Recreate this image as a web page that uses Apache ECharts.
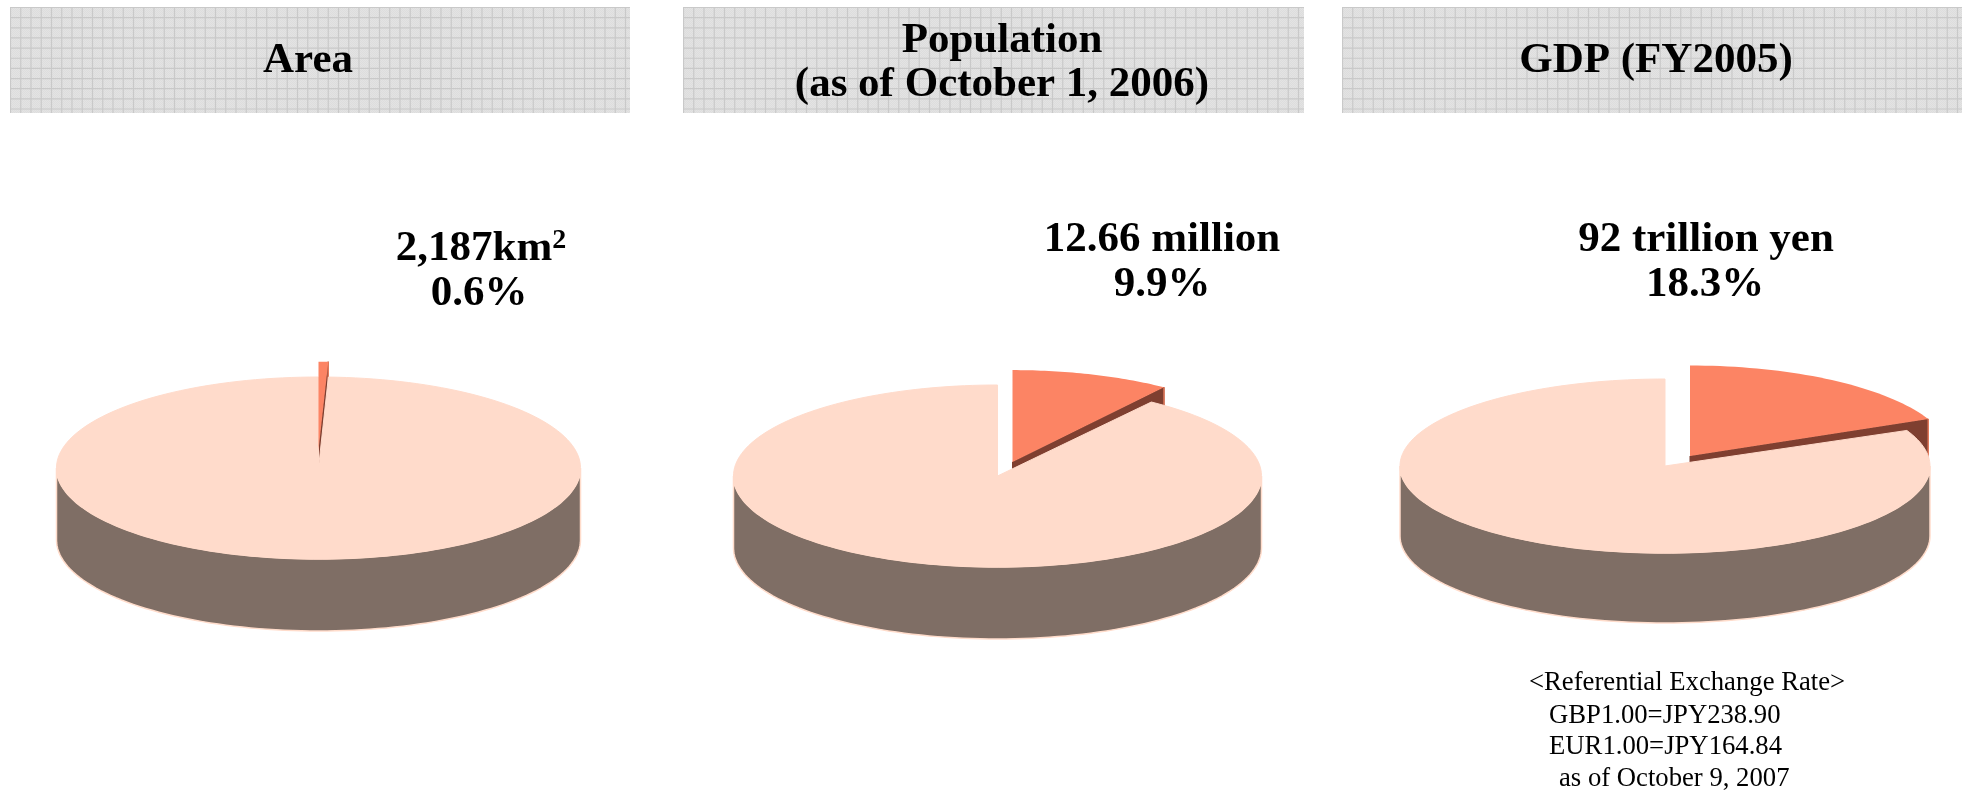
<!DOCTYPE html>
<html><head><meta charset="utf-8">
<style>html,body{margin:0;padding:0;background:#fff}#c{width:1966px;height:794px}</style>
<script src="https://cdn.jsdelivr.net/npm/echarts@6/dist/echarts.min.js"></script>
</head><body><div id="c"></div>
<script>
// ---- data ----
const panelTitles = ["Area", "Population\n(as of October 1, 2006)", "GDP (FY2005)"];
const valueLabels = ["2,187km{sup|2}", "12.66 million", "92 trillion yen"];
const shareLabels = ["0.6%", "9.9%", "18.3%"];
const shares = [0.6, 9.9, 18.3];
const noteLines = ["<Referential Exchange Rate>", "GBP1.00=JPY238.90", "EUR1.00=JPY164.84", "as of October 9, 2007"];

// ---- layout ----
const layouts = [
  {cx:318.5, cy:468, rx:262, ry:91, depth:72, ox:0, oy:-18, sx:.985, sy:.97},
  {cx:997.5, cy:476, rx:264, ry:91, depth:72, ox:15, oy:-14, sx:.985, sy:1.01},
  {cx:1665,  cy:466, rx:265, ry:87, depth:70, ox:25, oy:-10, sx:.985, sy:1.04}
];
const bands = [{x:10,w:620},{x:683,w:621},{x:1342,w:620}];
const titlePos = [[308,61],[1002,63],[1656,61]];
const valuePos = [[481,249],[1162,240],[1706,240]];
const sharePos = [[479,294],[1162,285],[1705,285]];
const notePos = [[1529,683],[1549,716],[1549,747],[1559,779]];
const C = {mainTop:'#FFDBCB', mainSide:'#7F6E65', sliceTop:'#FC8464', sliceSide:'#7F3F30', edge:'#FFDCCB', sliceEdge:'#E27A5C'};
const X_R = 1.1, Y_UP = 1.5, Y_DOWN = 2.2;

function makeBand(w,h){
  const c=document.createElement('canvas'); c.width=w; c.height=h;
  const g=c.getContext('2d');
  for(let y=0;y<h;y++)for(let x=0;x<w;x++){g.fillStyle=(x+y)%2?'#DDDDDD':'#E3E3E3';g.fillRect(x,y,1,1);}
  g.strokeStyle='#C9C9C9'; g.lineWidth=1.2;
  for(let x=0;x<w;x+=10.25){g.beginPath();g.moveTo(x+.5,0);g.lineTo(x+.5,h);g.stroke();}
  for(let y=0;y<h;y+=10.15){g.beginPath();g.moveTo(0,y+.5);g.lineTo(w,y+.5);g.stroke();}
  return c;
}

function renderPie(pieIndex){
  return function(params, api){
    const L = layouts[pieIndex], share = api.value(0), layer = api.value(1);
    const ux = 1/L.rx, uy = 1/L.ry, dY = L.depth*uy;
    const endA = share/100*2*Math.PI;
    const rim = (a,offY,k1,k2,ox,oy)=>api.coord([ (ox||0)+Math.sin(a)*(k1||1), (oy||0)+Math.cos(a)*(k2||1)-(offY||0) ]);
    const children=[];
    const poly=(pts,fill,stroke,lw)=>children.push({type:'polygon',shape:{points:pts},style:{fill:fill,stroke:stroke||fill,lineWidth:lw||1}});
    const ox=L.ox*ux, oy=-L.oy*uy;
    if(layer===0){ // cut face of the exploded slice
      const p1=api.coord([ox,oy]), p2=rim(endA,0,L.sx,L.sy,ox,oy),
            p3=rim(endA,dY,L.sx,L.sy,ox,oy), p4=api.coord([ox,oy-dY]);
      poly([p1,p2,p3,p4],C.sliceSide);
      children.push({type:'line',shape:{x1:p2[0],y1:p2[1],x2:p3[0],y2:p3[1]},style:{stroke:C.sliceEdge,lineWidth:1.5}});
    } else if(layer===1){ // wall of the main body
      const pts=[],back=[];
      const a0=Math.max(Math.PI/2,endA);
      const N=96;
      for(let i=0;i<=N;i++){const a=a0+(3*Math.PI/2-a0)*i/N;pts.push(rim(a));back.unshift(rim(a,dY));}
      poly(pts.concat(back),C.mainSide,C.edge,1.5);
    } else if(layer===2){ // top of the main body
      const pts=[api.coord([0,0])];
      const N=180;
      for(let i=0;i<=N;i++){pts.push(rim(endA+(2*Math.PI-endA)*i/N));}
      poly(pts,C.mainTop);
    } else { // top of the slice
      const pts=[api.coord([ox,oy])];
      const N=40;
      for(let i=0;i<=N;i++){pts.push(rim(endA*i/N,0,L.sx,L.sy,ox,oy));}
      children.push({type:'polygon',shape:{points:pts},style:{fill:C.sliceTop,stroke:null}});
    }
    return {type:'group',children:children};
  };
}

const grid=[],xAxis=[],yAxis=[],series=[];
layouts.forEach((L,i)=>{
  grid.push({left:L.cx-X_R*L.rx,width:2*X_R*L.rx,top:L.cy-Y_UP*L.ry,height:(Y_UP+Y_DOWN)*L.ry,containLabel:false});
  xAxis.push({type:'value',gridIndex:i,min:-X_R,max:X_R,show:false});
  yAxis.push({type:'value',gridIndex:i,min:-Y_DOWN,max:Y_UP,show:false});
  series.push({type:'custom',xAxisIndex:i,yAxisIndex:i,silent:true,animation:false,
    renderItem:renderPie(i),encode:{x:0,y:1},
    data:[0,1,2,3].map(layer=>[shares[i],layer])});
});

const textEl=(t,p,size,weight,align,extra)=>({type:'text',silent:true,z:10,style:Object.assign({text:t,x:p[0],y:p[1],
  font:(weight||'normal')+' '+size+'px "Liberation Serif","Times New Roman",serif',fill:'#000',
  align:align||'center',verticalAlign:'middle',lineHeight:44},extra||{})});

const graphic=[];
bands.forEach(b=>graphic.push({type:'image',silent:true,z:0,style:{image:makeBand(b.w,106),x:b.x,y:7,width:b.w,height:106}}));
panelTitles.forEach((t,i)=>graphic.push(textEl(t,titlePos[i],43,'bold')));
valueLabels.forEach((t,i)=>graphic.push(textEl(t,valuePos[i],43,'bold','center',{
  rich:{sup:{fontSize:28,fontWeight:'bold',fontFamily:'"Liberation Serif",serif',verticalAlign:'top',lineHeight:40,fill:'#000'}}})));
shareLabels.forEach((t,i)=>graphic.push(textEl(t,sharePos[i],43,'bold')));
noteLines.forEach((t,i)=>graphic.push(textEl(t,notePos[i],26.7,'normal','left')));

const chart=echarts.init(document.getElementById('c'),null,{renderer:'canvas',width:1966,height:794});
chart.setOption({animation:false,backgroundColor:'#fff',grid,xAxis,yAxis,series,graphic:{elements:graphic}});
</script></body></html>
